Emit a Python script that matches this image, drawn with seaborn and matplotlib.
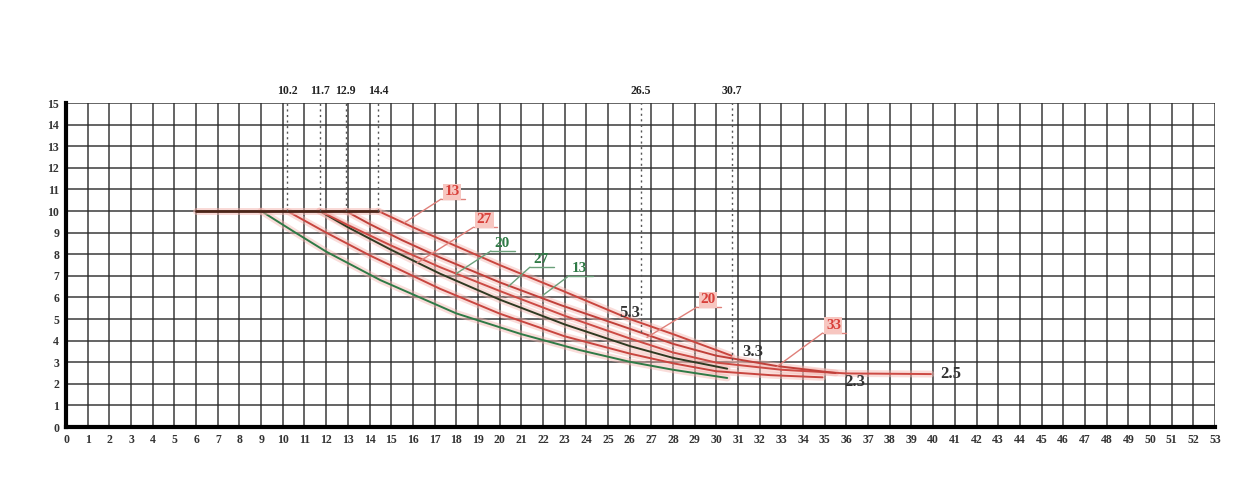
import numpy as np
import pandas as pd
import seaborn as sns
from matplotlib import pyplot as plt

# curves: (x, y) points per curve
curve_names = ['g9', 'r10', 'd11', 'r11', 'r12', 'r14']
curve_x = [
    [9, 10.5, 12, 14.5, 18, 21, 23.7, 26, 28, 30.5],
    [10.2, 12, 14, 17.25, 20, 23, 26, 28, 30, 32.5, 34.9],
    [11.7, 13, 15, 17.25, 20, 23, 26, 28, 30.5],
    [11.7, 13, 15, 17.25, 20, 23, 26, 28, 30, 33, 36, 39.9],
    [12.9, 14, 15.5, 17.25, 20, 22.8, 26, 28, 30, 32.8, 35.5],
    [14.4, 16, 17.25, 20, 22.8, 26, 28, 30.7],
]
curve_y = [
    [10, 9.05, 8.12, 6.8, 5.26, 4.3, 3.56, 3.02, 2.65, 2.27],
    [10, 9.0, 7.95, 6.4, 5.25, 4.2, 3.4, 2.95, 2.58, 2.4, 2.3],
    [10, 9.25, 8.2, 7.1, 5.9, 4.75, 3.75, 3.2, 2.7],
    [10, 9.35, 8.4, 7.4, 6.3, 5.15, 4.1, 3.45, 2.98, 2.65, 2.48, 2.45],
    [10, 9.4, 8.65, 7.85, 6.7, 5.65, 4.55, 3.85, 3.3, 2.82, 2.5],
    [10, 9.25, 8.7, 7.5, 6.35, 5.0, 4.3, 3.3],
]
curve_colors = {'g9': '#2f7a46', 'r10': '#c8453f', 'd11': '#2f3a22',
                'r11': '#cc4a44', 'r12': '#c0403a', 'r14': '#c9463f'}

plateau_x = [6, 14.4]
plateau_y = [10, 10]

# dashed markers at the top
marker_x = [10.2, 11.7, 12.9, 14.4, 26.5, 30.7]
marker_labels = ['10.2', '11.7', '12.9', '14.4', '26.5', '30.7']
marker_bottom = [10, 10, 10, 10, 4.4, 3.1]

# end values written next to the curves
end_labels = ['5.3', '3.3', '2.3', '2.5']
end_pos = [(26.0, 5.3), (31.7, 3.45), (36.4, 2.1), (40.8, 2.45)]

# callouts: text, colour, label position, leader start
callout_text = ['13', '27', '20', '27', '13', '20', '33']
callout_color = ['r', 'r', 'g', 'g', 'g', 'r', 'r']
callout_label = [(17.6, 10.9), (19.1, 9.6), (19.9, 8.5), (21.7, 7.75),
                 (23.5, 7.35), (29.4, 5.9), (35.2, 4.7)]
callout_start = [(15.6, 9.45), (16.2, 7.6), (18.0, 7.1), (20.4, 6.5),
                 (22.0, 6.1), (26.8, 4.15), (32.8, 2.8)]

rows = []
for name, xs, ys in zip(curve_names, curve_x, curve_y):
    for i, (xv, yv) in enumerate(zip(xs, ys)):
        rows.append({'curve': name, 'x': xv, 'y': yv, 'order': i})
df = pd.DataFrame(rows)

sns.set_style('white')
plt.rcParams['font.family'] = ['Liberation Serif', 'DejaVu Serif']

fig = plt.figure(figsize=(12.35, 4.88), dpi=100)
ax = fig.add_axes([66 / 1235, 61 / 488, 1149 / 1235, 324 / 488])

ax.set_xlim(0, 53)
ax.set_ylim(0, 15)
ax.set_xticks(range(0, 54))
ax.set_yticks(range(0, 16))
ax.grid(True, color='#2b2b2b', linewidth=1.2, alpha=0.85)
ax.set_axisbelow(True)
for side in ['top', 'right']:
    ax.spines[side].set_visible(False)
for side in ['left', 'bottom']:
    ax.spines[side].set_linewidth(3)
    ax.spines[side].set_color('black')
ax.tick_params(length=0, labelsize=8.5, pad=5)
for lab in ax.get_xticklabels() + ax.get_yticklabels():
    lab.set_fontweight('bold')
    lab.set_color('#333333')

# soft pink halo under the curves
sns.lineplot(data=df, x='x', y='y', units='curve', estimator=None, sort=False,
             color='#f4b4ae', linewidth=5, alpha=0.45, ax=ax, legend=False)
sns.lineplot(data=df, x='x', y='y', hue='curve', palette=curve_colors,
             estimator=None, sort=False, linewidth=1.4, ax=ax, legend=False)
ax.plot(plateau_x, plateau_y, color='#f4b4ae', linewidth=5, alpha=0.5)
ax.plot(plateau_x, plateau_y, color='#4a2418', linewidth=2)
ax.set_xlabel('')
ax.set_ylabel('')

ax.vlines(marker_x, marker_bottom, 15, colors='#555555', linestyles=(0, (1.5, 2.5)),
          linewidth=1)
for xv, lab in zip(marker_x, marker_labels):
    ax.text(xv, 15.3, lab, ha='center', va='bottom', fontsize=8.5,
            fontweight='bold', color='#222222', clip_on=False)

for lab, (xv, yv) in zip(end_labels, end_pos):
    ax.text(xv, yv, lab, ha='center', va='center', fontsize=12,
            fontweight='bold', color='#333333')

for txt, col, (lx, ly), (sx, sy) in zip(callout_text, callout_color,
                                        callout_label, callout_start):
    if col == 'r':
        c = '#d8403a'
        line_c = '#e0807a'
        box = dict(boxstyle='square,pad=0.1', facecolor='#f7c6c0', edgecolor='none')
    else:
        c = '#2f7a46'
        line_c = '#6aa07a'
        box = None
    ax.plot([sx, lx - 0.3], [sy, ly - 0.35], color=line_c, linewidth=1)
    ax.plot([lx - 0.3, lx + 0.8], [ly - 0.35, ly - 0.35], color=line_c, linewidth=1)
    ax.text(lx + 0.2, ly, txt, ha='center', va='center', fontsize=11,
            fontweight='bold', color=c, bbox=box)

fig.savefig('out.png', dpi=100, facecolor='white')
